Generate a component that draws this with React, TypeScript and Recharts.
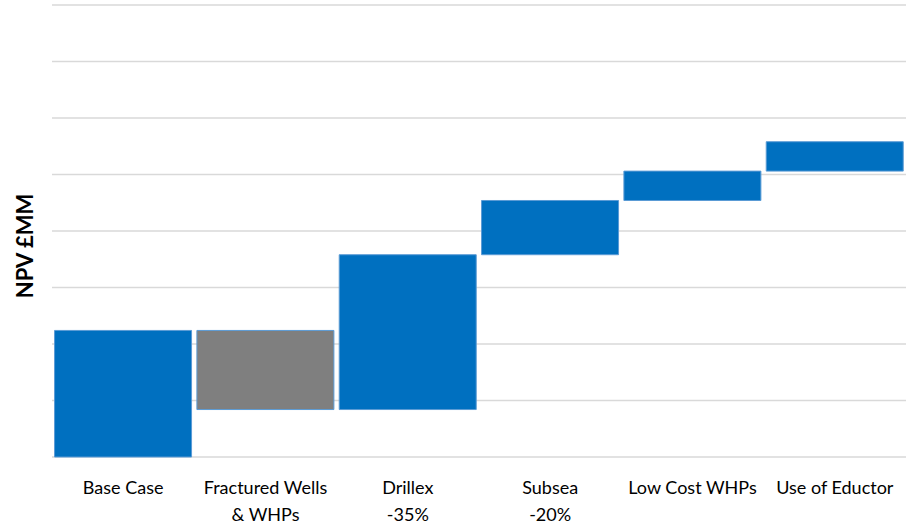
import React from "react";
import { BarChart, Bar, XAxis, YAxis, CartesianGrid, Cell } from "recharts";

const categories = ["Base Case", "Fractured Wells\n& WHPs", "Drillex\n-35%", "Subsea\n-20%", "Low Cost WHPs", "Use of Eductor"];
const lows = [0, 42, 42, 179, 227, 253];
const highs = [112, 112, 179, 227, 253, 279];
const colors = ["#0070C0", "#7F7F7F", "#0070C0", "#0070C0", "#0070C0", "#0070C0"];
const yTicks = [0, 50, 100, 150, 200, 250, 300, 350, 400];

const data = categories.map((c, i) => ({
  name: c,
  offset: lows[i],
  value: highs[i] - lows[i],
}));

const Tick = (props: any) => {
  const { x, y, payload } = props;
  const lines = String(payload.value).split("\n");
  return (
    <g>
      {lines.map((l, i) => (
        <text
          key={i}
          x={x}
          y={y + 29 + i * 27}
          textAnchor="middle"
          fill="#000"
          fontFamily="Lato, 'Noto Sans', sans-serif"
          fontSize={18}
        >
          {l}
        </text>
      ))}
    </g>
  );
};

export default function App() {
  return (
    <div style={{ position: "absolute", left: 0, top: 0, width: 917, height: 526, background: "#fff" }}>
      <BarChart
        width={917}
        height={526}
        data={data}
        margin={{ top: 5, right: 11, left: 52, bottom: 0 }}
        barCategoryGap="1.8%"
      >
        <CartesianGrid horizontal vertical={false} stroke="#D9D9D9" strokeWidth={1.5} />
        <XAxis
          dataKey="name"
          axisLine={false}
          tickLine={false}
          interval={0}
          height={69}
          tick={<Tick />}
        />
        <YAxis
          domain={[0, 400]}
          ticks={yTicks}
          interval={0}
          width={0}
          axisLine={false}
          tickLine={false}
          tickFormatter={() => ""}
        />
        <Bar dataKey="offset" stackId="a" fill="transparent" isAnimationActive={false} />
        <Bar dataKey="value" stackId="a" stroke="#5B9BD5" strokeWidth={1} isAnimationActive={false}>
          {data.map((d, i) => (
            <Cell key={i} fill={colors[i]} />
          ))}
        </Bar>
      </BarChart>
      <div
        style={{
          position: "absolute",
          left: 24,
          top: 246,
          transform: "translate(-50%, -50%) rotate(-90deg)",
          fontFamily: "Lato, 'Noto Sans', sans-serif",
          fontWeight: 700,
          fontSize: 22,
          whiteSpace: "nowrap",
          color: "#000",
        }}
      >
        NPV £MM
      </div>
    </div>
  );
}
